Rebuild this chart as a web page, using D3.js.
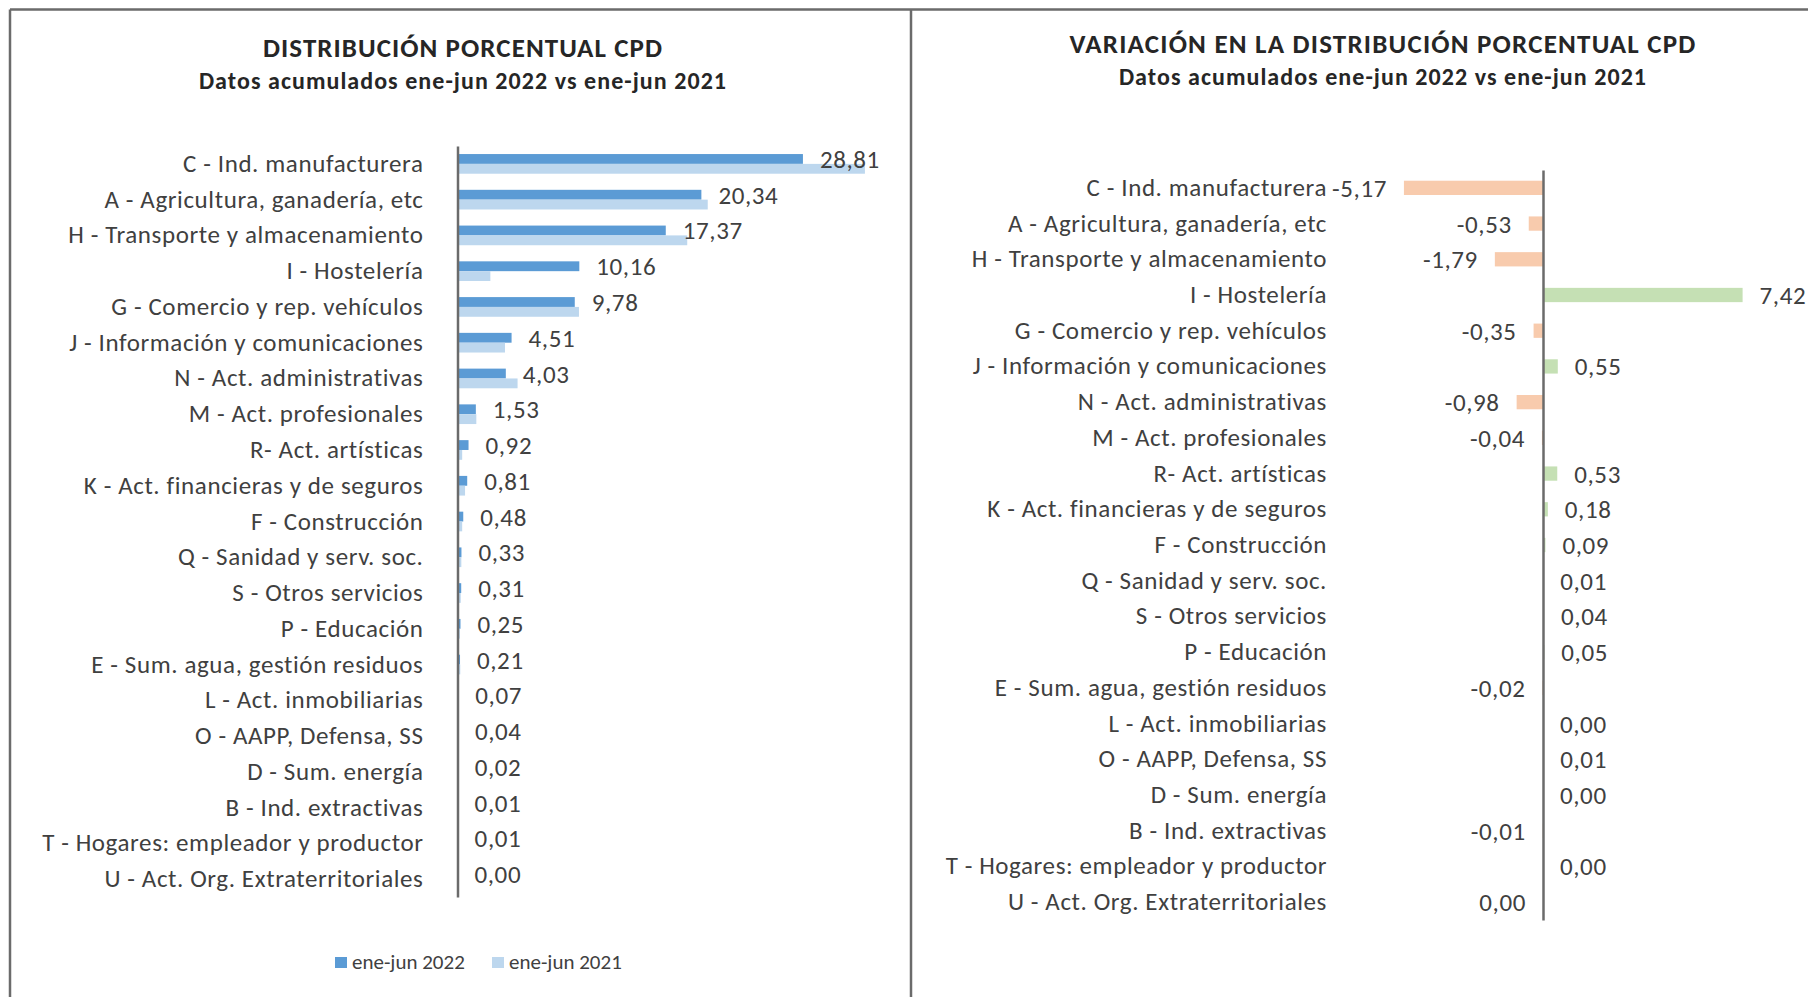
<!DOCTYPE html>
<html>
<head>
<meta charset="utf-8">
<script src="https://cdn.jsdelivr.net/npm/d3@7"></script>
<style>
  body { margin: 0; background: #fff; }
  svg { display: block; font-family: Carlito, Lato, "Open Sans", sans-serif; }
  .domain { stroke: #6b6b6b; stroke-width: 2.5; }
</style>
</head>
<body>
<div id="chart"></div>
<script>
// categories, in the order they appear top to bottom
const categories = [
  "C - Ind. manufacturera",
  "A - Agricultura, ganadería, etc",
  "H - Transporte y almacenamiento",
  "I - Hostelería",
  "G - Comercio y rep. vehículos",
  "J - Información y comunicaciones",
  "N - Act. administrativas",
  "M - Act. profesionales",
  "R-  Act. artísticas",
  "K - Act. financieras y de seguros",
  "F - Construcción",
  "Q - Sanidad y serv. soc.",
  "S - Otros servicios",
  "P - Educación",
  "E - Sum. agua, gestión residuos",
  "L - Act. inmobiliarias",
  "O - AAPP, Defensa, SS",
  "D - Sum. energía ",
  "B - Ind. extractivas",
  "T - Hogares: empleador y productor",
  "U - Act. Org. Extraterritoriales"
]

const values2022 = [28.81, 20.34, 17.37, 10.16, 9.78, 4.51, 4.03, 1.53, 0.92, 0.81, 0.48,
                    0.33, 0.31, 0.25, 0.21, 0.07, 0.04, 0.02, 0.01, 0.01, 0.00]
const values2021 = [33.98, 20.87, 19.16, 2.74, 10.13, 3.96, 5.01, 1.57, 0.39, 0.63, 0.39,
                    0.32, 0.27, 0.20, 0.23, 0.07, 0.03, 0.02, 0.02, 0.01, 0.00]
const variation = [-5.17, -0.53, -1.79, 7.42, -0.35, 0.55, -0.98, -0.04, 0.53, 0.18, 0.09,
                   0.01, 0.04, 0.05, -0.02, 0.00, 0.01, 0.00, -0.01, 0.00, -0.001]

const seriesNames = ["ene-jun 2022", "ene-jun 2021"]
const seriesColors = ["#5b9bd5", "#bdd7ee"]
const negColor = "#f8cbad"
const posColor = "#c5e0b4"
const textColor = "#404040"

const leftTitle = "DISTRIBUCIÓN PORCENTUAL CPD"
const rightTitle = "VARIACIÓN EN LA DISTRIBUCIÓN PORCENTUAL CPD"
const subTitle = "Datos acumulados ene-jun 2022 vs ene-jun 2021"

const W = 1808, H = 997
const es = d3.formatLocale({decimal: ",", thousands: ".", grouping: [3], currency: ["", " €"], minus: "-"})
const fmt = es.format(".2f")

let svg = d3.select("#chart").append("svg")
    .attr("width", W)
    .attr("height", H)

svg.append("rect").attr("width", W).attr("height", H).attr("fill", "#fff")

// panel frames
svg.append("path")
    .attr("d", "M10,9.5H" + W + "M10,9.5V" + H + "M911,9.5V" + H)
    .attr("fill", "none")
    .attr("stroke", "#6b6b6b")
    .attr("stroke-width", 2.5)

function titles(cx, y1, y2, title, spacing) {
    svg.append("text")
        .attr("x", cx).attr("y", y1)
        .attr("text-anchor", "middle")
        .attr("font-weight", 700)
        .attr("font-size", 27)
        .attr("letter-spacing", spacing)
        .attr("fill", "#262626")
        .text(title)
    svg.append("text")
        .attr("x", cx).attr("y", y2)
        .attr("text-anchor", "middle")
        .attr("font-weight", 700)
        .attr("font-size", 24)
        .attr("letter-spacing", 1.05)
        .attr("fill", "#262626")
        .text(subTitle)
}

function labelStyle(sel) {
    sel.attr("font-size", 25)
        .attr("letter-spacing", 0.6)
        .attr("fill", textColor)
}

// ---------- left chart: distribution ----------
titles(463, 57, 89, leftTitle, 1.05)

let x = d3.scaleLinear().domain([0, 35]).range([457.5, 457.5 + 35 * 11.99])
let y = d3.scaleBand().domain(categories).range([146, 897]).paddingInner(0.45).paddingOuter(0.225)
let yInner = d3.scaleBand().domain(seriesNames).range([0, y.bandwidth()])

let leftData = categories.map((c, i) => ({cat: c, v: [values2022[i], values2021[i]]}))

let groups = svg.append("g")
    .selectAll("g")
    .data(leftData)
    .enter().append("g")
    .attr("transform", d => "translate(0," + y(d.cat) + ")")

groups.selectAll("rect")
    .data(d => d.v.map((v, k) => ({v, k})))
    .enter().append("rect")
    .attr("x", x(0))
    .attr("y", d => yInner(seriesNames[d.k]))
    .attr("width", d => x(d.v) - x(0))
    .attr("height", yInner.bandwidth())
    .attr("fill", d => seriesColors[d.k])

groups.append("text")
    .attr("x", d => x(d.v[0]) + 17)
    .attr("y", yInner(seriesNames[0]) + yInner.bandwidth() / 2)
    .attr("dy", "0.36em")
    .call(labelStyle)
    .text(d => fmt(d.v[0]))

let leftAxis = svg.append("g")
    .attr("transform", "translate(" + x(0) + ",0)")
    .call(d3.axisLeft(y).tickSize(0).tickSizeOuter(0).tickPadding(34))
leftAxis.selectAll("text").call(labelStyle)
leftAxis.attr("font-family", null).attr("font-size", null)

// legend
let legend = svg.append("g").attr("transform", "translate(335,957)")
let legendItems = legend.selectAll("g")
    .data(seriesNames)
    .enter().append("g")
    .attr("transform", (d, i) => "translate(" + i * 157 + ",0)")
legendItems.append("rect")
    .attr("width", 12).attr("height", 11)
    .attr("fill", (d, i) => seriesColors[i])
legendItems.append("text")
    .attr("x", 17).attr("y", 12)
    .attr("font-size", 21)
    .attr("fill", textColor)
    .text(d => d)

// ---------- right chart: variation ----------
titles(1383, 53, 85, rightTitle, 1.2)

let x2 = d3.scaleLinear().domain([-6, 8]).range([1543 - 6 * 26.9, 1543 + 8 * 26.9])
let y2 = d3.scaleBand().domain(categories).range([170, 920]).paddingInner(0.6).paddingOuter(0.3)

let rightData = categories.map((c, i) => ({cat: c, v: variation[i]}))

svg.append("g")
    .selectAll("rect")
    .data(rightData)
    .enter().append("rect")
    .attr("x", d => x2(Math.min(0, d.v)))
    .attr("y", d => y2(d.cat))
    .attr("width", d => Math.abs(x2(d.v) - x2(0)))
    .attr("height", y2.bandwidth())
    .attr("fill", d => d.v < 0 ? negColor : posColor)

svg.append("g")
    .selectAll("text")
    .data(rightData)
    .enter().append("text")
    .attr("x", d => d.v < 0 ? x2(d.v) - 17 : x2(d.v) + 17)
    .attr("y", d => y2(d.cat) + y2.bandwidth() / 2)
    .attr("dy", "0.36em")
    .attr("text-anchor", d => d.v < 0 ? "end" : "start")
    .call(labelStyle)
    .text(d => fmt(d.v))

let rightAxis = svg.append("g")
    .attr("transform", "translate(" + x2(0) + ",0)")
    .call(d3.axisLeft(y2).tickSize(0).tickSizeOuter(0).tickPadding(x2(0) - 1327))
rightAxis.selectAll("text").call(labelStyle)
rightAxis.attr("font-family", null).attr("font-size", null)
</script>
</body>
</html>
